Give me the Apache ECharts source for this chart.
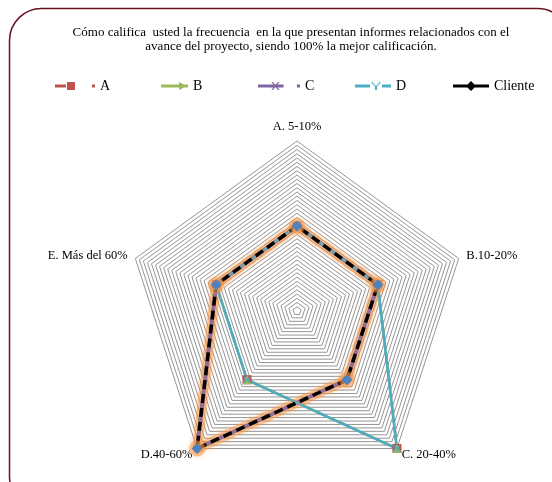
<!DOCTYPE html>
<html>
<head>
<meta charset="utf-8">
<script src="https://cdn.jsdelivr.net/npm/echarts@6/dist/echarts.min.js"></script>
<style>
  html, body { margin: 0; padding: 0; background: #fff; }
  #chart { width: 552px; height: 482px; }
</style>
</head>
<body>
<div id="chart"></div>
<script>
// Categories (clockwise from the top) and the rating of each group, in %
const categories = ['A. 5-10%', 'B.10-20%', 'C. 20-40%', 'D.40-60%', 'E. Más del 60%'];
const seriesA = [50, 50, 100, 50, 50];
const seriesB = [50, 50, 100, 50, 50];
const seriesC = [50, 50, 50, 100, 50];
const seriesD = [50, 50, 100, 50, 50];
const seriesCliente = [50, 50, 50, 100, 50];
const axisMax = 100;
const ringStep = 2.5;

const FONT = '"Liberation Serif", "Times New Roman", serif';

// ECharts lays radar indicators out counter-clockwise; reorder so they run clockwise
const order = [0, 4, 3, 2, 1];
const cw = arr => order.map(i => arr[i]);

const xMark = 'path://M0,1.5L1.5,0L5,3.5L8.5,0L10,1.5L6.5,5L10,8.5L8.5,10L5,6.5L1.5,10L0,8.5L3.5,5Z';
const GLOW = 'rgba(247,150,70,0.45)';

const chart = echarts.init(document.getElementById('chart'));

const legendBase = {
  top: 79,
  padding: 0,
  itemHeight: 10,
  textStyle: { fontFamily: FONT, fontSize: 14, color: '#000' },
  itemGap: 0,
  selectedMode: false
};

chart.setOption({
  animation: false,
  title: {
    text: 'Cómo califica  usted la frecuencia  en la que presentan informes relacionados con el\navance del proyecto, siendo 100% la mejor calificación.',
    left: 291,
    top: 26,
    padding: 0,
    textAlign: 'center',
    textStyle: { fontFamily: FONT, fontSize: 13, fontWeight: 'normal', color: '#000', lineHeight: 14 }
  },
  legend: [
    Object.assign({}, legendBase, {
      left: 55, itemWidth: 40,
      data: [{ name: 'A', icon: 'path://M0,3.5H11V6.5H0Z M12,1H20V9H12Z M37,3.5H40V6.5H37Z', itemStyle: { color: '#c0504d' } }]
    }),
    Object.assign({}, legendBase, {
      left: 161, itemWidth: 27,
      data: [{ name: 'B', icon: 'path://M0,3.5H27V6.5H0Z M18,1L26,5L18,9Z', itemStyle: { color: '#9bbb59' } }]
    }),
    Object.assign({}, legendBase, {
      left: 258, itemWidth: 42,
      data: [{ name: 'C', icon: 'path://M0,3.5H25V6.5H0Z M13,1L14.5,1L21,9L19.5,9Z M19.5,1L21,1L14.5,9L13,9Z M38,3.5H41V6.5H38Z', itemStyle: { color: '#8064a2' } }]
    }),
    Object.assign({}, legendBase, {
      left: 355, itemWidth: 36,
      data: [{ name: 'D', icon: 'path://M0,3.5H15V6.5H0Z M16,1L17.5,1L21,5L24.5,1L26,1L22,5.5L22,9L20,9L20,5.5Z M27,3.5H36V6.5H27Z', itemStyle: { color: '#4bacc6' } }]
    }),
    Object.assign({}, legendBase, {
      left: 453, itemWidth: 36,
      data: [{ name: 'Cliente', icon: 'path://M0,3.5H36V6.5H0Z M18,0L23,5L18,10L13,5Z', itemStyle: { color: '#000' } }]
    })
  ],
  radar: {
    center: [297, 311],
    radius: 170,
    shape: 'polygon',
    startAngle: 90,
    splitNumber: axisMax / ringStep,
    indicator: cw(categories).map(name => ({ name: name, min: 0, max: axisMax })),
    axisName: { color: '#000', fontFamily: FONT, fontSize: 12.5 },
    nameGap: 8,
    axisLine: { show: false },
    axisTick: { show: false },
    axisLabel: { show: false },
    splitArea: { show: false },
    splitLine: { lineStyle: { color: '#959595', width: 1 } }
  },
  series: [{
    type: 'radar',
    data: [
      {
        name: 'A', value: cw(seriesA),
        symbol: 'rect', symbolSize: 9,
        lineStyle: { color: '#c0504d', width: 2.5, type: [10, 6, 3, 6] },
        itemStyle: { color: '#c0504d' }
      },
      {
        name: 'B', value: cw(seriesB),
        symbol: 'triangle', symbolSize: 9,
        lineStyle: { color: '#9bbb59', width: 2.5 },
        itemStyle: { color: '#9bbb59' }
      },
      {
        // soft orange halo under the Cliente line
        name: 'Cliente', value: cw(seriesCliente),
        symbol: 'circle', symbolSize: 16,
        lineStyle: { color: GLOW, width: 10, type: [9, 5], cap: 'round', shadowColor: GLOW, shadowBlur: 4 },
        itemStyle: { color: GLOW, shadowColor: GLOW, shadowBlur: 4 }
      },
      {
        name: 'C', value: cw(seriesC),
        symbol: xMark, symbolSize: 7,
        lineStyle: { color: '#8064a2', width: 4 },
        itemStyle: { color: '#8064a2' }
      },
      {
        name: 'D', value: cw(seriesD),
        symbol: xMark, symbolSize: 7,
        lineStyle: { color: '#4bacc6', width: 2.5 },
        itemStyle: { color: '#4bacc6' }
      },
      {
        name: 'Cliente', value: cw(seriesCliente),
        symbol: 'diamond', symbolSize: 11,
        lineStyle: {
          color: '#000', width: 3.5, type: [9, 5],
          shadowColor: 'rgb(247,150,70)', shadowBlur: 6
        },
        itemStyle: { color: '#4f81bd', shadowColor: 'rgb(247,150,70)', shadowBlur: 6 }
      }
    ]
  }],
  graphic: [{
    type: 'rect',
    shape: { x: 9.5, y: 8.5, width: 560, height: 500, r: 32 },
    style: { fill: 'none', stroke: '#6b1020', lineWidth: 1.5 },
    silent: true,
    z: -1
  }]
});
</script>
</body>
</html>
